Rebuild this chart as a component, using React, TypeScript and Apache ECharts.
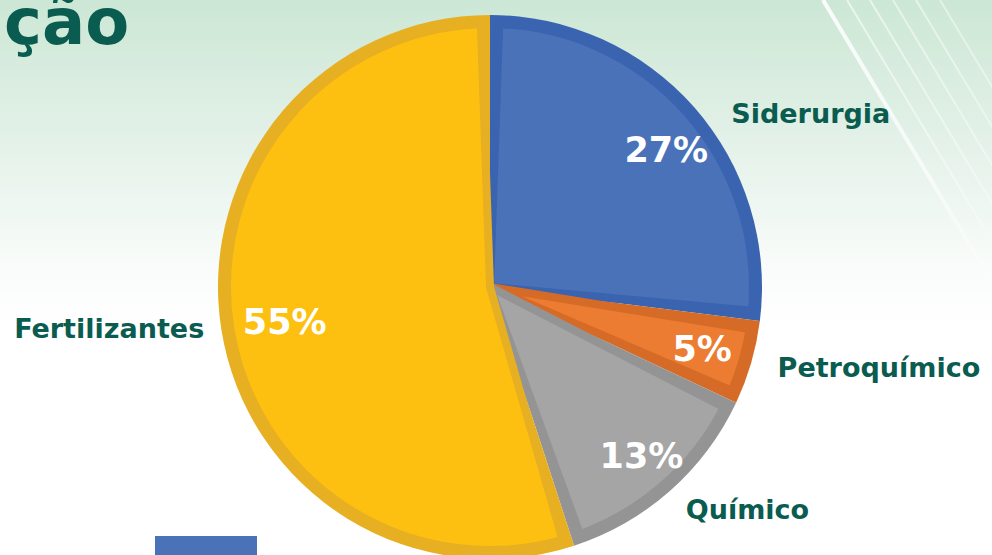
import React, { useEffect, useRef } from 'react';
import * as echarts from 'echarts';

const categories = ['Siderurgia', 'Petroquímico', 'Químico', 'Fertilizantes'];
const shares = [27, 5, 13, 55];
const titleFragment = 'ção';

const fillColors = ['#4a72b8', '#ec7c31', '#a5a5a5', '#fec010'];
const edgeColors = ['#3a63b0', '#d66b27', '#949494', '#e7af22'];

const nameLineLengths = [
  { length: -9, length2: 39 },
  { length: 15, length2: 7 },
  { length: 24, length2: -5 },
  { length: -9, length2: 21 },
];
const pctLabelOffsets = [
  [9, 10],
  [-2, 0],
  [4, 2],
  [15, 0],
];

const decoLines = [
  { x1: 823, op: 0.9, w: 4 },
  { x1: 847, op: 0.6, w: 2 },
  { x1: 870, op: 0.55, w: 2 },
  { x1: 893, op: 0.5, w: 2 },
  { x1: 916, op: 0.5, w: 2 },
  { x1: 940, op: 0.45, w: 2 },
];

export default function App() {
  const ref = useRef<HTMLDivElement>(null);
  useEffect(() => {
    document.body.style.margin = '0';
    const chart = echarts.init(ref.current!, undefined, { renderer: 'svg' });
    const center = [490, 287];
    const font = 'DejaVu Sans';
    chart.setOption({
      animation: false,
      backgroundColor: {
        type: 'linear', x: 0, y: 0, x2: 0, y2: 1,
        colorStops: [
          { offset: 0, color: '#cce7d5' },
          { offset: 0.25, color: '#e3f1e8' },
          { offset: 0.48, color: '#f9fcfa' },
          { offset: 0.6, color: '#ffffff' },
          { offset: 1, color: '#ffffff' },
        ],
      },
      graphic: [
        ...decoLines.map((l) => ({
          type: 'line',
          z: 0,
          shape: { x1: l.x1, y1: 0, x2: l.x1 + 0.6 * 300, y2: 300 },
          style: {
            stroke: {
              type: 'linear', x: 0, y: 0, x2: 0, y2: 1,
              colorStops: [
                { offset: 0, color: `rgba(255,255,255,${l.op})` },
                { offset: 0.6, color: `rgba(255,255,255,${l.op * 0.7})` },
                { offset: 1, color: 'rgba(255,255,255,0)' },
              ],
            },
            lineWidth: l.w,
          },
        })),
        {
          type: 'text',
          left: 4,
          top: -10,
          style: {
            text: titleFragment,
            fill: '#0b5c50',
            font: `bold 64px "${font}"`,
          },
        },
        {
          type: 'rect',
          shape: { x: 155, y: 536, width: 102, height: 30 },
          style: { fill: '#4a72b8' },
        },
      ],
      series: [
        {
          type: 'pie',
          center,
          radius: [0, 272],
          startAngle: 90,
          clockwise: true,
          avoidLabelOverlap: false,
          silent: true,
          data: categories.map((name, i) => ({
            name,
            value: shares[i],
            itemStyle: { color: edgeColors[i] },
            labelLine: { show: false, ...nameLineLengths[i] },
          })),
          label: {
            show: true,
            position: 'outside',
            formatter: '{b}',
            color: '#0b5c50',
            fontFamily: font,
            fontWeight: 'bold',
            fontSize: 27,
          },
          labelLine: { show: false },
        },
        {
          type: 'pie',
          center,
          radius: [0, 263],
          startAngle: 90,
          clockwise: true,
          padAngle: 4,
          silent: true,
          data: categories.map((name, i) => ({
            name,
            value: shares[i],
            itemStyle: {
              color: fillColors[i],
              borderColor: edgeColors[i],
              borderWidth: 8,
              borderJoin: 'miter',
            },
          })),
          label: { show: false },
          labelLine: { show: false },
        },
        {
          type: 'pie',
          center,
          radius: [168, 272],
          startAngle: 90,
          clockwise: true,
          silent: true,
          avoidLabelOverlap: false,
          data: categories.map((name, i) => ({
            name,
            value: shares[i],
            itemStyle: { color: 'rgba(0,0,0,0)' },
            label: { offset: pctLabelOffsets[i] },
          })),
          label: {
            show: true,
            position: 'inside',
            formatter: '{c}%',
            color: '#ffffff',
            fontFamily: font,
            fontWeight: 'bold',
            fontSize: 35,
          },
          labelLine: { show: false },
        },
      ],
    });
    return () => chart.dispose();
  }, []);
  return <div ref={ref} style={{ width: 992, height: 555 }} />;
}
